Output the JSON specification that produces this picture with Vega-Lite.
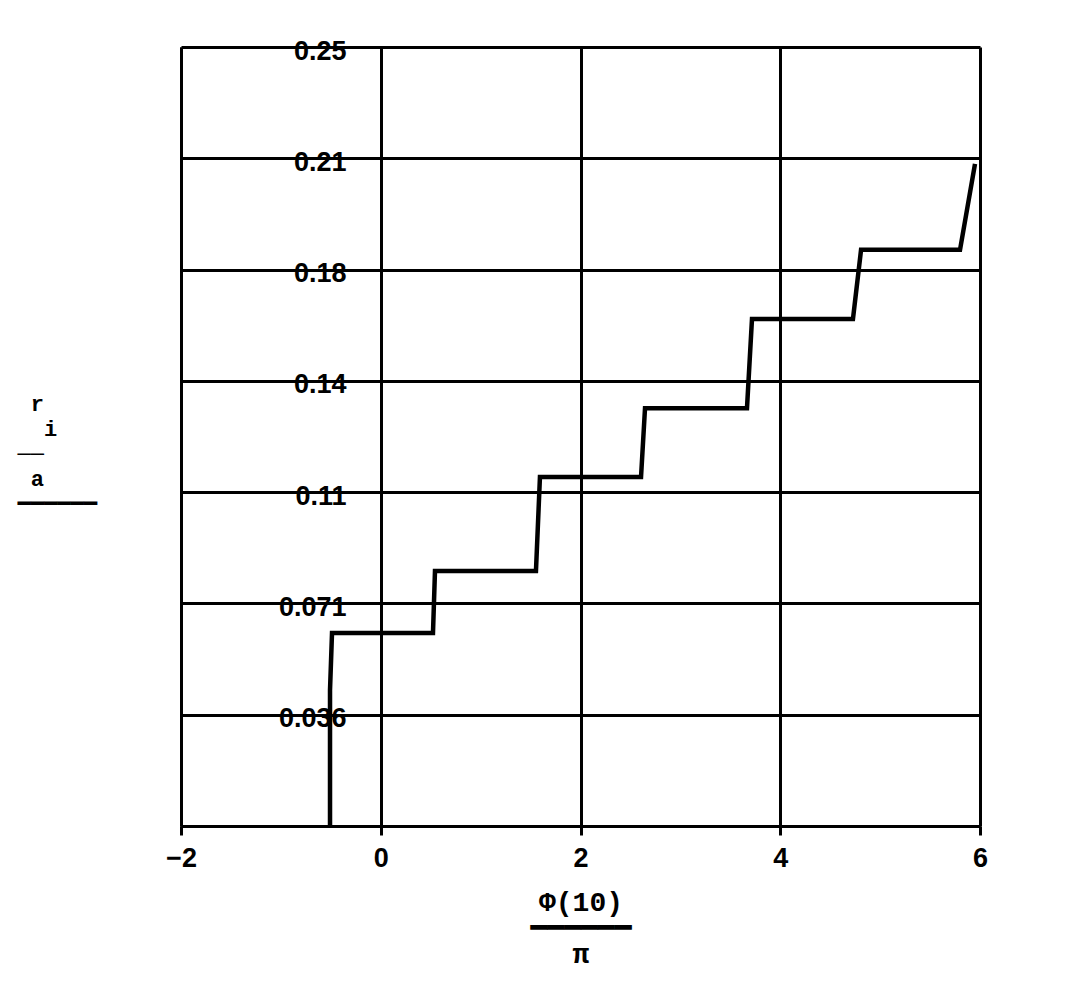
{
  "$schema": "https://vega.github.io/schema/vega-lite/v6.json",
  "autosize": "none",
  "width": 799,
  "height": 779,
  "padding": {"left": 181, "top": 47, "right": 111, "bottom": 159},
  "background": "white",
  "config": {"view": {"stroke": null}},
  "data": {
    "values": [
      {"i": 0, "phi": -0.508, "r": 0},
      {"i": 1, "phi": -0.508, "r": 0.0436},
      {"i": 2, "phi": -0.488, "r": 0.0619},
      {"i": 3, "phi": 0.523, "r": 0.0619},
      {"i": 4, "phi": 0.543, "r": 0.0818},
      {"i": 5, "phi": 1.554, "r": 0.0818},
      {"i": 6, "phi": 1.594, "r": 0.112},
      {"i": 7, "phi": 2.606, "r": 0.112},
      {"i": 8, "phi": 2.646, "r": 0.1341},
      {"i": 9, "phi": 3.667, "r": 0.1341},
      {"i": 10, "phi": 3.717, "r": 0.1627},
      {"i": 11, "phi": 4.728, "r": 0.1627},
      {"i": 12, "phi": 4.809, "r": 0.1849},
      {"i": 13, "phi": 5.8, "r": 0.1849},
      {"i": 14, "phi": 5.95, "r": 0.2125}
    ]
  },
  "mark": {"type": "line", "color": "black", "strokeWidth": 4.5, "strokeJoin": "miter", "clip": true},
  "encoding": {
    "order": {"field": "i", "type": "quantitative"},
    "x": {
      "field": "phi",
      "type": "quantitative",
      "scale": {"domain": [-2, 6], "nice": false, "zero": false},
      "axis": {
        "values": [-2, 0, 2, 4, 6],
        "format": "d",
        "grid": true,
        "gridColor": "black",
        "gridWidth": 3,
        "gridOpacity": 1,
        "domainColor": "black",
        "domainWidth": 3,
        "tickColor": "black",
        "tickWidth": 3,
        "tickSize": 9,
        "labelFont": "Liberation Sans, sans-serif",
        "labelFontSize": 27,
        "labelFontWeight": "bold",
        "labelColor": "black",
        "labelPadding": 10,
        "labelDx": 5,
        "labelFlush": false,
        "title": ["Φ(10)", "━━━━━━", "π"],
        "titleFont": "Liberation Mono, DejaVu Sans Mono, monospace",
        "titleFontSize": 28,
        "titleFontWeight": "bold",
        "titleColor": "black",
        "titleLineHeight": 26,
        "titleBaseline": "top",
        "titleY": 62
      }
    },
    "y": {
      "field": "r",
      "type": "quantitative",
      "scale": {"domain": [0, 0.25], "nice": false, "zero": false},
      "axis": {
        "values": [0, 0.0357142857, 0.0714285714, 0.1071428571, 0.1428571429, 0.1785714286, 0.2142857143, 0.25],
        "labelExpr": "datum.value < 0.001 ? '' : format(datum.value, '.2r')",
        "grid": true,
        "gridColor": "black",
        "gridWidth": 3,
        "gridOpacity": 1,
        "domainColor": "black",
        "domainWidth": 3,
        "ticks": true,
        "tickSize": 0,
        "labelFont": "Liberation Sans, sans-serif",
        "labelFontSize": 27,
        "labelFontWeight": "bold",
        "labelColor": "black",
        "labelAlign": "right",
        "labelBaseline": "middle",
        "labelPadding": -165,
        "labelOffset": 4,
        "labelFlush": false,
        "labelOverlap": false,
        "title": ["\u200b\u00a0r", "\u200b\u00a0\u00a0i", "\u200b──", "\u200b\u00a0a", "━━━━━━"],
        "titleFont": "Liberation Mono, DejaVu Sans Mono, monospace",
        "titleFontSize": 22,
        "titleFontWeight": "bold",
        "titleColor": "black",
        "titleAngle": 0,
        "titleAlign": "left",
        "titleBaseline": "top",
        "titleLineHeight": 25,
        "titleX": -164,
        "titleY": 346
      }
    }
  }
}
